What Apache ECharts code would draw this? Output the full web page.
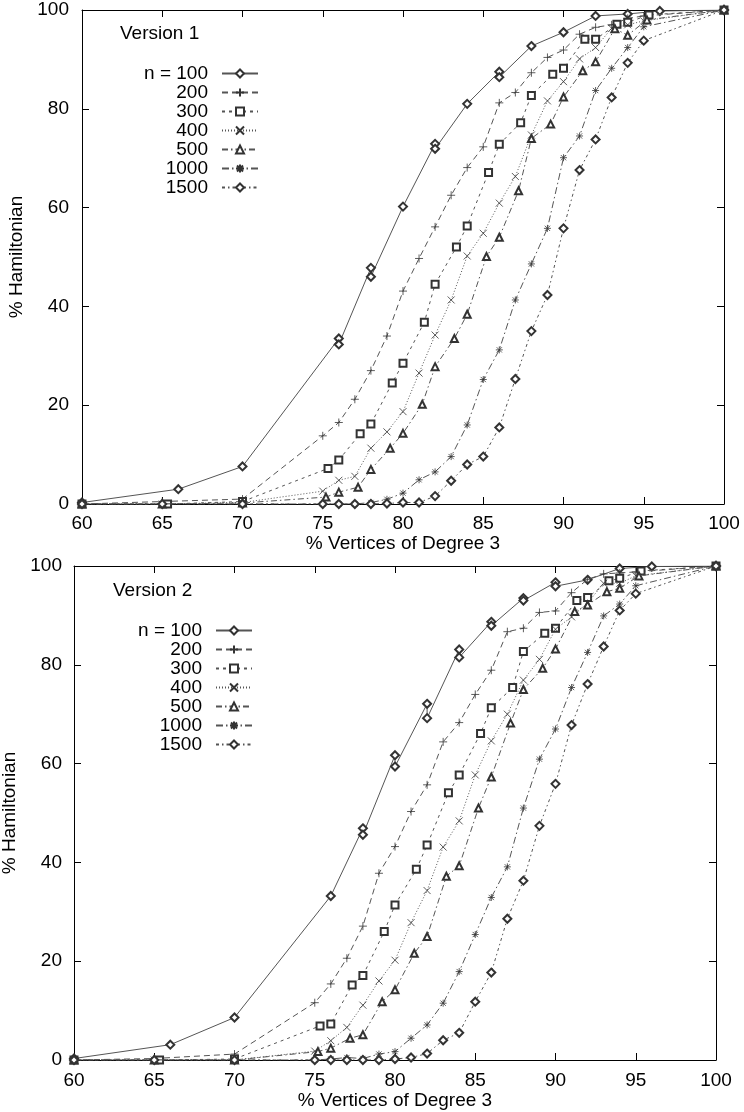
<!DOCTYPE html>
<html>
<head>
<meta charset="utf-8">
<script src="https://cdn.jsdelivr.net/npm/echarts@6/dist/echarts.min.js"></script>
<style>
html,body{margin:0;padding:0;background:#fff;}
#chart{width:744px;height:1112px;}
</style>
</head>
<body>
<div id="chart"></div>
<script>
// ---------------- data ----------------
const seriesNames = ['n = 100', '200', '300', '400', '500', '1000', '1500'];
const panelTitles = ['Version 1', 'Version 2'];
const xTitle = '% Vertices of Degree 3';
const yTitle = '% Hamiltonian';

// Version 1
const v1_100 = [[60,0.3],[66,3],[70,7.6],[76,33.5],[76,32.3],[78,47.8],[78,46],[80,60.2],[82,72.9],[82,71.9],[84,81],[86,87.5],[86,86.4],[88,92.7],[90,95.5],[92,98.8],[94,99.2],[96,99.8],[100,100]];
const v1_200 = [[60,0],[65,0.5],[70,1],[75,13.8],[76,16.5],[77,21.2],[78,27],[79,34],[80,43.1],[81,49.7],[82,56.1],[83,62.5],[84,68.1],[85,72.3],[86,81.2],[87,83.3],[88,87.3],[89,90.4],[90,91.9],[91,95.1],[92,96.5],[93,97],[94,98.3],[95,98.8],[100,100]];
const v1_300 = [[60,0],[65.33,0],[70,0.5],[75.33,7.2],[76,8.9],[77.33,14.2],[78,16.2],[79.33,24.5],[80,28.5],[81.33,36.8],[82,44.5],[83.33,52],[84,56.3],[85.33,67.1],[86,72.8],[87.33,77.2],[88,82.7],[89.33,87],[90,88.2],[91.33,94.1],[92,94.1],[93.33,97.1],[94,97.5],[95.33,99],[100,100]];
const v1_400 = [[60,0],[65,0],[70,0.3],[75,2.6],[76,4.8],[77,5.6],[78,11.3],[79,14.6],[80,18.7],[81,26.5],[82,34.2],[83,41.3],[84,50.2],[85,54.8],[86,60.9],[87,66.3],[88,74.7],[89,81.6],[90,85.5],[91,90.1],[92,92.4],[93,96.3],[94,97],[95,97.8],[100,100]];
const v1_500 = [[60,0],[65,0],[70,0.2],[75.2,1.4],[76,2.4],[77.2,3.4],[78,7],[79.2,11.3],[80,14.3],[81.2,20.2],[82,27.8],[83.2,33.5],[84,38.4],[85.2,50.1],[86,54],[87.2,63.4],[88,74],[89.2,76.9],[90,82.4],[91.2,87.7],[92,89.5],[93.2,96.2],[94,94.9],[95.2,98],[100,100]];
const v1_1000 = [[60,0],[65,0],[70,0],[75,0],[76,0],[77,0],[78,0.3],[79,0.95],[80,2.2],[81,4.9],[82,6.5],[83,9.6],[84,16],[85,25.2],[86,31.2],[87,41.3],[88,48.6],[89,55.8],[90,70.1],[91,74.5],[92,83.7],[93,88.2],[94,92.4],[95,96.6],[100,100]];
const v1_1500 = [[60,0],[65,0],[70,0],[75,0],[76,0],[77,0],[78,0],[79,0.1],[80,0.3],[81,0.3],[82,1.6],[83,4.7],[84,8],[85,9.6],[86,15.5],[87,25.3],[88,35],[89,42.3],[90,55.8],[91,67.6],[92,73.8],[93,82.3],[94,89.3],[95,93.8],[100,100]];

// Version 2
const v2_100 = [[60,0.3],[66,3.1],[70,8.6],[76,33.2],[78,46.9],[78,45.6],[80,61.7],[80,59.4],[82,72.1],[82,69.2],[84,83.1],[84,81.5],[86,88.7],[86,87.9],[88,93.5],[88,93],[90,96.7],[90,95.9],[92,97.2],[94,99.5],[96,99.9],[100,100]];
const v2_200 = [[60,0],[65,0.3],[70,1.2],[75,11.6],[76,15.4],[77,20.6],[78,27.1],[79,37.8],[80,43.2],[81,50.3],[82,55.7],[83,64.4],[84,68.3],[85,74],[86,78.9],[87,86.7],[88,87.4],[89,90.6],[90,90.9],[91,94.6],[92,97.3],[93,98.4],[94,98.6],[95,98.8],[100,100]];
const v2_300 = [[60,0],[65.33,0],[70,0.2],[75.33,6.9],[76,7.3],[77.33,15.2],[78,17.1],[79.33,26],[80,31.4],[81.33,38.6],[82,43.5],[83.33,54.1],[84,57.7],[85.33,66.1],[86,71.3],[87.33,75.4],[88,82.7],[89.33,86.4],[90,87.4],[91.33,93],[92,93.6],[93.33,97],[94,97.5],[95.33,99],[100,100]];
const v2_400 = [[60,0],[65,0],[70,0],[75,1.8],[76,3.9],[77,6.6],[78,11.1],[79,16],[80,20.2],[81,27.8],[82,34.3],[83,43.1],[84,48.4],[85,57.7],[86,64.6],[87,70],[88,76.9],[89,81.1],[90,87.2],[91,89.7],[92,92.5],[93,96.5],[94,96.5],[95,98],[100,100]];
const v2_500 = [[60,0],[65,0],[70,0],[75.2,1.7],[76,2.4],[77.2,4.4],[78,5.1],[79.2,11.8],[80,14.2],[81.2,21.6],[82,25],[83.2,37.2],[84,39.3],[85.2,51],[86,57.3],[87.2,68.2],[88,75],[89.2,79.3],[90,83.2],[91.2,90.8],[92,92.1],[93.2,94.8],[94,95.5],[95.2,98],[100,100]];
const v2_1000 = [[60,0],[65,0],[70,0],[75,0],[76,0.2],[77,0.5],[78,0.3],[79,1.2],[80,1.7],[81,4.4],[82,7.1],[83,11.5],[84,17.9],[85,25.4],[86,32.9],[87,39.1],[88,51],[89,60.9],[90,67],[91,75.4],[92,82.5],[93,89.9],[94,92.3],[95,96],[100,100]];
const v2_1500 = [[60,0],[65,0],[70,0],[75,0],[76,0],[77,0],[78,0],[79,0],[80,0.2],[81,0.5],[82,1.3],[83,4],[84,5.5],[85,11.8],[86,17.7],[87,28.6],[88,36.3],[89,47.4],[90,55.9],[91,67.8],[92,76.1],[93,83.7],[94,91],[95,94.4],[100,100]];

const xTicks = {min: 60, max: 100, interval: 5};
const yTicks = {min: 0, max: 100, interval: 20};

// ---------------- styles ----------------
const FONT = 'Liberation Sans, Arial, Helvetica, sans-serif';
const PLUS = 'path://M0,-1L0,1M-1,0L1,0';
const CROSS = 'path://M-1,-1L1,1M-1,1L1,-1';
const STAR = 'path://M0,-1L0,1M-1,0L1,0M-0.75,-0.75L0.75,0.75M-0.75,0.75L0.75,-0.75';
const styleDefs = [
  {symbol: 'emptyDiamond', size: 8, dash: 'solid'},
  {symbol: PLUS, size: 8, dash: [6, 4]},
  {symbol: 'emptyRect', size: 7, dash: [3, 4]},
  {symbol: CROSS, size: 7, dash: [1, 2]},
  {symbol: 'emptyTriangle', size: 7, dash: [6, 3, 1.5, 3]},
  {symbol: STAR, size: 7, dash: [7, 3, 1.5, 3]},
  {symbol: 'emptyDiamond', size: 8, dash: [3, 3, 1.5, 3]}
];

const panels = [
  {data: [v1_100, v1_200, v1_300, v1_400, v1_500, v1_1000, v1_1500],
   grid: {left: 82, right: 20, top: 10, height: 494},
   legendLeft: 142, legendTop: 64, titleLeft: 120, titleTop: 24,
   xLabelMargin: 10, xNameGap: 28, yLabelMargin: 13, yNameGap: 53},
  {data: [v2_100, v2_200, v2_300, v2_400, v2_500, v2_1000, v2_1500],
   grid: {left: 74, right: 28, top: 566, height: 494},
   legendLeft: 136, legendTop: 621, titleLeft: 113, titleTop: 581,
   xLabelMargin: 11, xNameGap: 28, yLabelMargin: 12, yNameGap: 53}
];

const AX_COLOR = '#000';
const MARK = '#333';
const grids = [], xAxes = [], yAxes = [], series = [], legends = [], titles = [];

panels.forEach((p, pi) => {
  grids.push(Object.assign({outerBoundsMode: 'none', containLabel: false}, p.grid));
  const baseX = {
    type: 'value', gridIndex: pi, min: xTicks.min, max: xTicks.max, interval: xTicks.interval,
    axisLine: {show: true, onZero: false, lineStyle: {color: AX_COLOR, width: 1}},
    axisTick: {show: true, inside: true, length: 7, lineStyle: {color: AX_COLOR}},
    splitLine: {show: false}
  };
  xAxes.push(Object.assign({}, baseX, {
    position: 'bottom',
    axisLabel: {show: true, margin: p.xLabelMargin, color: '#000', fontSize: 19, fontFamily: FONT},
    name: xTitle, nameLocation: 'middle', nameGap: p.xNameGap,
    nameTextStyle: {color: '#000', fontSize: 19, fontFamily: FONT}
  }));
  xAxes.push(Object.assign({}, baseX, {position: 'top', axisLabel: {show: false}}));
  const baseY = {
    type: 'value', gridIndex: pi, min: yTicks.min, max: yTicks.max, interval: yTicks.interval,
    axisLine: {show: true, onZero: false, lineStyle: {color: AX_COLOR, width: 1}},
    axisTick: {show: true, inside: true, length: 7, lineStyle: {color: AX_COLOR}},
    splitLine: {show: false}
  };
  yAxes.push(Object.assign({}, baseY, {
    position: 'left',
    axisLabel: {show: true, margin: p.yLabelMargin, color: '#000', fontSize: 19, fontFamily: FONT},
    name: yTitle, nameLocation: 'middle', nameGap: p.yNameGap, nameRotate: 90,
    nameTextStyle: {color: '#000', fontSize: 19, fontFamily: FONT}
  }));
  yAxes.push(Object.assign({}, baseY, {position: 'right', axisLabel: {show: false}}));

  p.data.forEach((d, si) => {
    const s = styleDefs[si];
    series.push({
      type: 'line', name: seriesNames[si],
      xAxisIndex: pi * 2, yAxisIndex: pi * 2,
      data: d,
      symbol: s.symbol, symbolSize: s.size, showSymbol: true, showAllSymbol: true,
      lineStyle: {color: '#555', width: 1, type: s.dash},
      itemStyle: {color: MARK, borderColor: MARK, borderWidth: 0.8},
      emphasis: {disabled: true},
      z: 2 + si
    });
  });

  legends.push({
    orient: 'vertical', align: 'right', left: p.legendLeft, top: p.legendTop,
    padding: 0, itemGap: 0, itemWidth: 36, itemHeight: 10,
    data: seriesNames, selectedMode: false,
    formatter: '{a|{name}}',
    textStyle: {
      color: '#000', fontSize: 19, fontFamily: FONT,
      rich: {a: {width: 66, align: 'right', padding: [0, 9, 0, 0], lineHeight: 20, fontSize: 19, fontFamily: FONT, color: '#000'}}
    }
  });

  titles.push({
    text: panelTitles[pi], left: p.titleLeft, top: p.titleTop, padding: 0,
    textStyle: {color: '#000', fontSize: 19, fontWeight: 'normal', fontFamily: FONT}
  });
});

const chart = echarts.init(document.getElementById('chart'), null, {renderer: 'canvas'});
chart.setOption({
  animation: false,
  backgroundColor: '#fff',
  title: titles,
  legend: legends,
  grid: grids,
  xAxis: xAxes,
  yAxis: yAxes,
  series: series
});
</script>
</body>
</html>
